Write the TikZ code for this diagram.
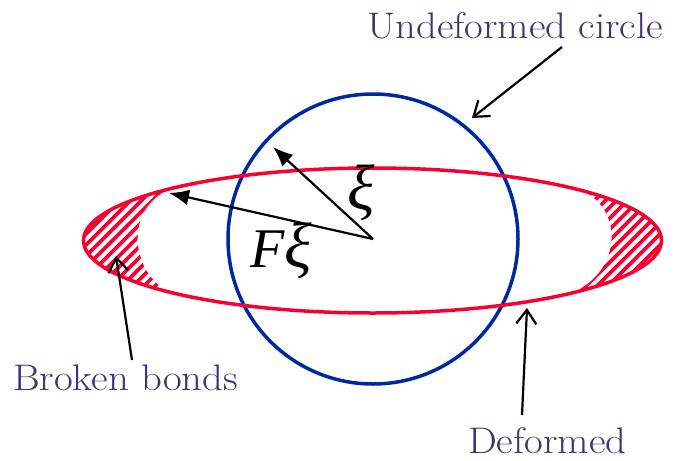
\documentclass[tikz,border=0pt]{standalone}
\usepackage{fontspec}
\newfontfamily\mathlikefont{Liberation Serif}
\usetikzlibrary{arrows.meta}
\definecolor{circblue}{RGB}{0,40,160}
\definecolor{ellred}{RGB}{250,0,50}
\definecolor{labpurple}{RGB}{65,50,115}
\newcommand{\stretchlab}[1]{\scalebox{1.1}[1]{#1}}
\newcommand{\bigxi}{{\fontsize{64}{70}\selectfont ξ}}
\begin{document}
\begin{tikzpicture}[x=1pt,y=-1pt,
  lab/.style={text=labpurple, font=\fontsize{37}{42}\selectfont, inner sep=0pt, anchor=base west},
  mathlab/.style={font=\mathlikefont\itshape\fontsize{56}{62}\selectfont, inner sep=0pt, anchor=base west},
  pointer/.style={black, line width=2.2pt, -{Straight Barb[length=14pt,width=20pt]}},
  vec/.style={black, line width=2.2pt, -{Latex[length=20pt,width=16pt]}},
  hatch/.style={ellred, line width=3.6pt}]
\useasboundingbox (0,0) rectangle (679,460);
\fill[white] (0,0) rectangle (679,460);

% undeformed circle
\draw[circblue, line width=3.5pt] (373,239) circle[radius=145];

% hatched regions (broken bonds)
\begin{scope}
  \clip (170,188.8) arc[start angle=225.5, end angle=134.5, x radius=289, y radius=72.5]
        .. controls (132,275) and (122,210) .. (170,188.8) -- cycle;
  \foreach \i in {-22,-11,...,130} \draw[hatch] (\i,320) -- ++(160,-160);
\end{scope}
\begin{scope}
  \clip (578,189) arc[start angle=315.4, end angle=406, x radius=289, y radius=72.5]
        .. controls (622,272) and (625,206) .. (578,189) -- cycle;
  \foreach \i in {464,475,...,620} \draw[hatch] (\i,320) -- ++(160,-160);
\end{scope}

% deformed ellipse
\draw[ellred, line width=3.5pt] (372.5,240.5) ellipse[x radius=289, y radius=72.5];

% vectors
\coordinate (O) at (373,239);
\coordinate (xitip) at (273,147);
\coordinate (Fxitip) at (169,193);
\draw[vec] (O) -- (xitip);
\draw[vec] (O) -- (Fxitip);
\node[mathlab] (xi) at (347,209) {\bigxi};
\node[mathlab] (Fxi) at (250,267) {F\bigxi};

% labels
\node[lab] (uc) at (367,38) {\stretchlab{Undeformed circle}};
\node[lab] (bb) at (13,390) {\stretchlab{Broken bonds}};
\node[lab] (df) at (468,453) {\stretchlab{Deformed}};

\coordinate (uctail) at (562,47);
\coordinate (uctip) at (472,118);
\coordinate (bbtail) at (132,360);
\coordinate (bbtip) at (116,256);
\coordinate (dftail) at (522,415);
\coordinate (dftip) at (527,308);
\draw[pointer] (uctail) -- (uctip);
\draw[pointer] (bbtail) -- (bbtip);
\draw[pointer] (dftail) -- (dftip);
\end{tikzpicture}
\end{document}
